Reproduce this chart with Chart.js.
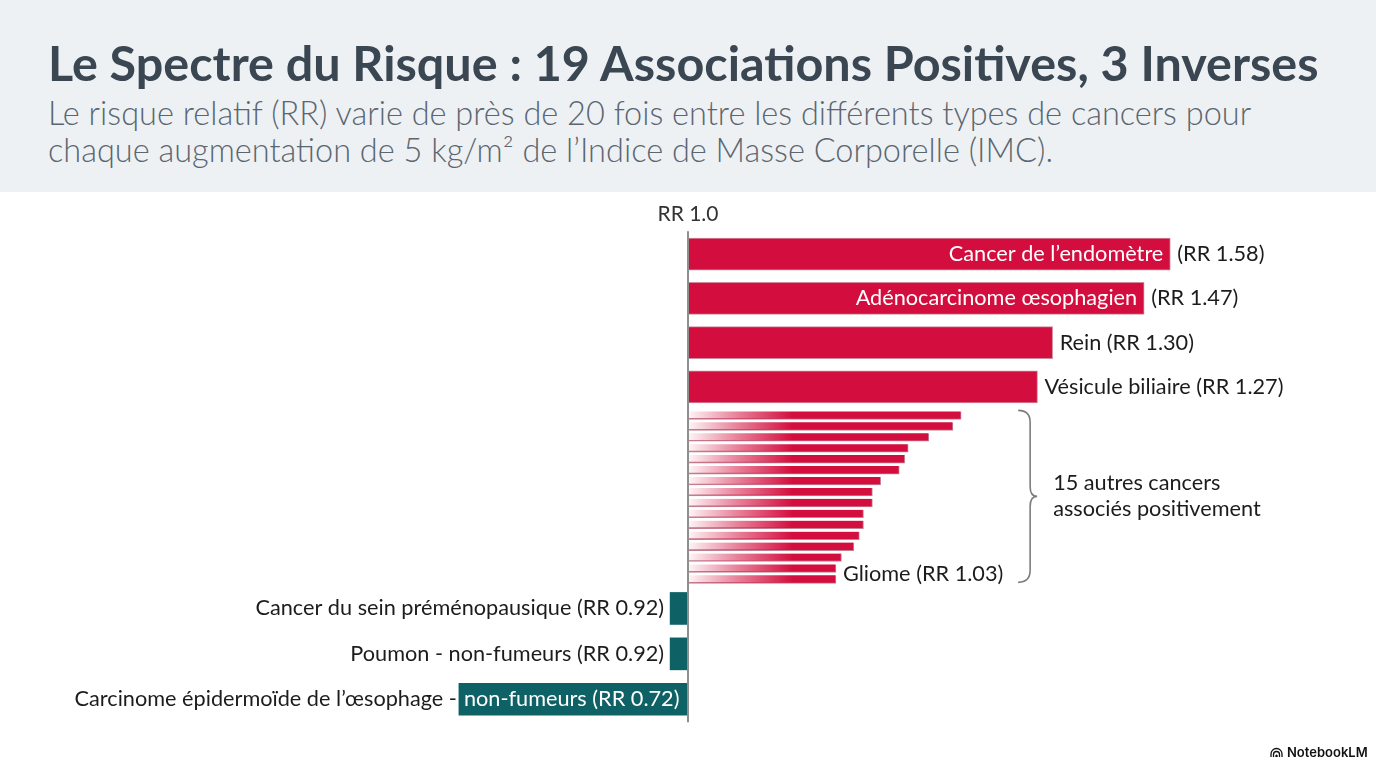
<!DOCTYPE html>
<html lang="fr">
<head>
<meta charset="utf-8">
<script src="https://cdn.jsdelivr.net/npm/chart.js@4.4.1/dist/chart.umd.min.js"></script>
<style>
  body { margin: 0; width: 1376px; height: 768px; background: #fff; overflow: hidden; position: relative; font-family: Lato, "Noto Sans", sans-serif; }
  #entete { position: absolute; left: 0; top: 0; width: 1376px; height: 192px; background: #eef1f4; }
  h1 { position: absolute; left: 48px; top: 39px; margin: 0; font-size: 48.5px; line-height: 46px; font-weight: 700; color: #3a4651; white-space: nowrap; }
  #sous { position: absolute; left: 48px; top: 94px; margin: 0; font-size: 32.5px; line-height: 37px; font-weight: 300; color: #5a6670; white-space: nowrap; }
  #graphe { position: absolute; left: 0; top: 192px; }
  #logo { position: absolute; left: 1270px; top: 744px; font: 600 13px Inter, sans-serif; color: #111; display: flex; align-items: center; gap: 4px; }
</style>
</head>
<body>
<div id="entete">
  <h1>Le Spectre du Risque : 19 Associations Positives, 3 Inverses</h1>
  <p id="sous">Le risque relatif (RR) varie de près de 20 fois entre les différents types de cancers pour<br>chaque augmentation de 5 kg/m² de l’Indice de Masse Corporelle (IMC).</p>
</div>
<canvas id="graphe" width="1376" height="576"></canvas>
<div id="logo"><svg width="13" height="10" viewBox="0 0 13 10"><path d="M1 10 V7 A5.5 5.5 0 0 1 12 7 V10 M3.5 10 V7.5 A3 3 0 0 1 9.5 7.5 V10 M6 10 V8.5 A0.6 0.6 0 0 1 7 8.5 V10" fill="none" stroke="#111" stroke-width="1.3"/></svg>NotebookLM</div>

<script>
// associations positives mises en avant
var nomsPrincipaux = ["Cancer de l’endomètre", "Adénocarcinome œsophagien", "Rein", "Vésicule biliaire"];
var rrPrincipaux = [1.58, 1.47, 1.30, 1.27];
var longueursPrincipales = [70.1, 66.3, 53.0, 50.8];

// 15 autres cancers associés positivement (longueurs)
var longueursAutres = [39.7, 38.5, 35.0, 32.0, 31.5, 30.7, 28.0, 26.8, 26.8, 25.5, 25.5, 24.9, 24.1, 22.3, 21.5, 21.5];
var nomDernier = "Gliome";
var rrDernier = 1.03;

// associations inverses
var nomsInverses = ["Cancer du sein préménopausique", "Poumon - non-fumeurs", "Carcinome épidermoïde de l’œsophage - non-fumeurs"];
var rrInverses = [0.92, 0.92, 0.72];
var longueursInverses = [-2.6, -2.6, -33.3];

var texteAccolade = ["15 autres cancers", "associés positivement"];

var rouge = "#d30d3d";
var sarcelle = "#0e6265";
var police = "Lato, 'Noto Sans', sans-serif";

// positions verticales des lignes
var debut = 62.2, pasGrand = 44.2, pasFin = 10.93, ecart = 28.6, pasBas = 45.4;
var yPrincipaux = longueursPrincipales.map(function (v, i) { return debut + i * pasGrand; });
var debutFin = yPrincipaux[yPrincipaux.length - 1] + ecart;
var yAutres = longueursAutres.map(function (v, i) { return debutFin + i * pasFin; });
var debutBas = yAutres[yAutres.length - 1] + ecart + 0.5;
var yInverses = longueursInverses.map(function (v, i) { return debutBas + i * pasBas; });

function rr(v) { return "(RR " + v.toFixed(2) + ")"; }

var etiquettes = {
  id: "etiquettes",
  afterDatasetsDraw: function (chart) {
    var c = chart.ctx, sx = chart.scales.x, sy = chart.scales.y;
    var x0 = sx.getPixelForValue(0);
    c.save();
    c.textBaseline = "middle";

    // ligne RR 1.0
    var haut = sy.getPixelForValue(yPrincipaux[0]) - 23;
    var bas = sy.getPixelForValue(yInverses[yInverses.length - 1]) + 23;
    c.strokeStyle = "#8e8e8e";
    c.lineWidth = 2;
    c.beginPath(); c.moveTo(x0, haut); c.lineTo(x0, bas); c.stroke();
    c.fillStyle = "#333";
    c.textAlign = "center";
    c.font = "21px " + police;
    c.fillText("RR 1.0", x0, haut - 17);
    c.font = "21.7px " + police;

    // barres principales
    nomsPrincipaux.forEach(function (nom, i) {
      var xe = sx.getPixelForValue(longueursPrincipales[i]);
      var y = sy.getPixelForValue(yPrincipaux[i]);
      if (i < 2) {
        c.fillStyle = "#fff"; c.textAlign = "right";
        c.fillText(nom, xe - 7, y);
        c.fillStyle = "#1c1c1c"; c.textAlign = "left";
        c.fillText(rr(rrPrincipaux[i]), xe + 7, y);
      } else {
        c.fillStyle = "#1c1c1c"; c.textAlign = "left";
        c.fillText(nom + " " + rr(rrPrincipaux[i]), xe + 7, y);
      }
    });

    // gliome
    var n = longueursAutres.length;
    var xg = sx.getPixelForValue(longueursAutres[n - 1]);
    var yg = (sy.getPixelForValue(yAutres[n - 1]) + sy.getPixelForValue(yAutres[n - 2])) / 2;
    c.fillStyle = "#1c1c1c"; c.textAlign = "left";
    c.fillText(nomDernier + " " + rr(rrDernier), xg + 7, yg);

    // accolade
    var xmax = sx.getPixelForValue(Math.max.apply(null, longueursAutres)) + 57;
    var y1 = sy.getPixelForValue(yAutres[0]) - 5;
    var y2 = sy.getPixelForValue(yAutres[n - 1]) + 3;
    var ym = (y1 + y2) / 2;
    var xb = xmax + 12, xp = xmax + 19;
    c.strokeStyle = "#7d7d7d"; c.lineWidth = 1.6;
    c.beginPath();
    c.moveTo(xmax, y1);
    c.quadraticCurveTo(xb, y1, xb, y1 + 12);
    c.lineTo(xb, ym - 10);
    c.quadraticCurveTo(xb, ym, xp, ym);
    c.quadraticCurveTo(xb, ym, xb, ym + 10);
    c.lineTo(xb, y2 - 12);
    c.quadraticCurveTo(xb, y2, xmax, y2);
    c.stroke();
    c.fillStyle = "#1c1c1c"; c.textAlign = "left";
    c.fillText(texteAccolade[0], xp + 16, ym - 13);
    c.fillText(texteAccolade[1], xp + 16, ym + 13);

    // associations inverses
    nomsInverses.forEach(function (nom, i) {
      var xs = sx.getPixelForValue(longueursInverses[i]);
      var y = sy.getPixelForValue(yInverses[i]);
      if (x0 - xs > 100) {
        var k = nom.lastIndexOf(" - ");
        c.fillStyle = "#fff"; c.textAlign = "left";
        c.fillText(nom.slice(k + 3) + " " + rr(rrInverses[i]), xs + 5, y);
        c.fillStyle = "#1c1c1c"; c.textAlign = "right";
        c.fillText(nom.slice(0, k + 2), xs - 2, y);
      } else {
        c.fillStyle = "#1c1c1c"; c.textAlign = "right";
        c.fillText(nom + " " + rr(rrInverses[i]), xs - 6, y);
      }
    });
    c.restore();
  }
};

function degrade(ctx) {
  var chart = ctx.chart;
  if (!chart.chartArea || !chart.scales.x) return rouge;
  var x0 = chart.scales.x.getPixelForValue(0);
  var g = chart.ctx.createLinearGradient(x0, 0, x0 + 105, 0);
  g.addColorStop(0, "rgba(211,13,61,0.04)");
  g.addColorStop(0.45, "rgba(211,13,61,0.5)");
  g.addColorStop(1, "rgba(211,13,61,1)");
  return g;
}

function points(longueurs, ys) {
  return longueurs.map(function (v, i) { return { x: v, y: ys[i] }; });
}

new Chart("graphe", {
  type: "bar",
  data: {
    datasets: [
      {
        data: points(longueursPrincipales, yPrincipaux),
        backgroundColor: rouge,
        borderColor: "rgba(150,0,35,0.45)",
        borderWidth: 1,
        barThickness: 32,
        grouped: false
      },
      {
        data: points(longueursAutres, yAutres),
        backgroundColor: degrade,
        borderColor: "rgba(140,0,35,0.5)",
        borderWidth: { top: 0, right: 1, bottom: 1, left: 0 },
        barThickness: 8,
        grouped: false
      },
      {
        data: points(longueursInverses, yInverses),
        backgroundColor: sarcelle,
        barThickness: 32,
        grouped: false
      }
    ]
  },
  options: {
    indexAxis: "y",
    responsive: false,
    animation: false,
    layout: { padding: 0 },
    plugins: { legend: { display: false }, tooltip: { enabled: false } },
    scales: {
      x: { type: "linear", min: -100, max: 100, offset: false, display: false },
      y: { type: "linear", min: 0, max: 576, reverse: true, offset: false, display: false }
    }
  },
  plugins: [etiquettes]
});
</script>
</body>
</html>
